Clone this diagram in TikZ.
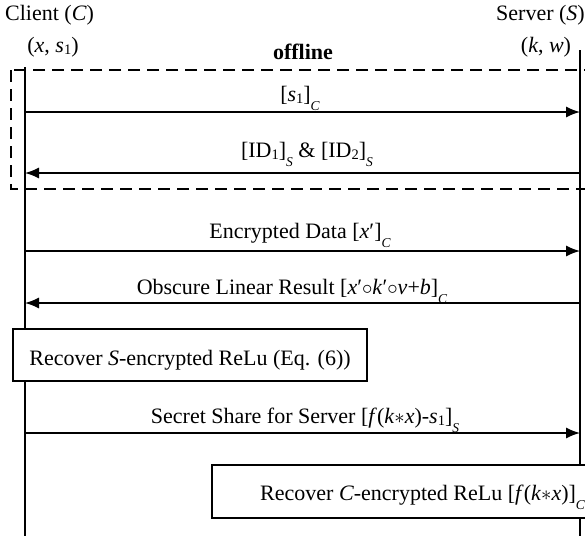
\documentclass[tikz,border=0pt]{standalone}
\usepackage{fontspec}
\setmainfont{Liberation Serif}
\usetikzlibrary{arrows.meta}
\newcommand\lowsub[1]{\raisebox{-0.42em}{\fontsize{13.5}{13.5}\selectfont\itshape #1}}
\newcommand\numsub[1]{\raisebox{-0.12em}{\fontsize{14.5}{14.5}\selectfont #1}}
\newcommand\iv[1]{\textit{#1}}
\tikzset{
  lbl/.style={inner sep=0pt, anchor=base, font=\fontsize{22}{25}\selectfont},
  life/.style={line width=1.5pt},
  msg/.style={line width=1.4pt, -{Latex[length=14pt,width=11pt]}},
  offbox/.style={line width=1.4pt, dash pattern=on 12pt off 7pt},
  procbox/.style={line width=1.4pt, fill=white},
}
\begin{document}
\begin{tikzpicture}[x=1pt,y=-1pt]
\useasboundingbox (0,0) rectangle (585,536);
\clip (0,0) rectangle (585,536);
% headers
\node[lbl, anchor=base west] (cl) at (5,20) {Client (\iv{C})};
\node[lbl, anchor=base east] (sv) at (585,20) {Server (\iv{S})};
\node[lbl] (cx) at (53,52) {(\iv{x}, \iv{s}\numsub{1})};
\node[lbl] (sk) at (546,52) {(\iv{k}, \iv{w})};
\node[lbl, font=\fontsize{22}{25}\selectfont\bfseries] (off) at (303,59) {offline};
% dashed offline box
\draw[offbox] (11,70) rectangle (650,189);
% lifelines
\coordinate (ctop) at (25,67);
\coordinate (cbot) at (25,536);
\coordinate (stop) at (580,50);
\coordinate (sbot) at (580,536);
\draw[life] (ctop) -- (cbot);
\draw[life] (stop) -- (sbot);
% message endpoints
\coordinate (c1) at (25,112); \coordinate (s1) at (580,112);
\coordinate (c2) at (25,173); \coordinate (s2) at (580,173);
\coordinate (c3) at (25,251); \coordinate (s3) at (580,251);
\coordinate (c4) at (25,303); \coordinate (s4) at (580,303);
\coordinate (c5) at (25,433); \coordinate (s5) at (580,433);
\draw[msg] (c1) -- (s1);
\draw[msg] (s2) -- (c2);
\draw[msg] (c3) -- (s3);
\draw[msg] (s4) -- (c4);
\draw[msg] (c5) -- (s5);
% labels
\node[lbl] (m1) at (300,101) {[\iv{s}\numsub{1}]\lowsub{C}};
\node[lbl] (m2) at (307,157) {[ID\numsub{1}]\lowsub{S} \& [ID\numsub{2}]\lowsub{S}};
\node[lbl] (m3) at (300,238) {Encrypted Data [\iv{x}′]\lowsub{C}};
\node[lbl] (m4) at (292,294) {Obscure Linear Result [\iv{x}′$\circ$\iv{k}′$\circ$\iv{v}+\iv{b}]\lowsub{C}};
\node[lbl] (m5) at (305,423) {Secret Share for Server [\iv{f}(\iv{k}$\ast$\iv{x})-\iv{s}\numsub{1}]\lowsub{S}};
% process boxes
\draw[procbox] (13,329) rectangle (367,381);
\node[lbl] (p1) at (190,365) {Recover \iv{S}-encrypted ReLu (Eq. (6))};
\draw[procbox] (212,465) rectangle (650,518);
\node[lbl, anchor=base west] (p2) at (260,500) {Recover \iv{C}-encrypted ReLu [\iv{f}(\iv{k}$\ast$\iv{x})]\lowsub{C}};
\end{tikzpicture}
\end{document}
